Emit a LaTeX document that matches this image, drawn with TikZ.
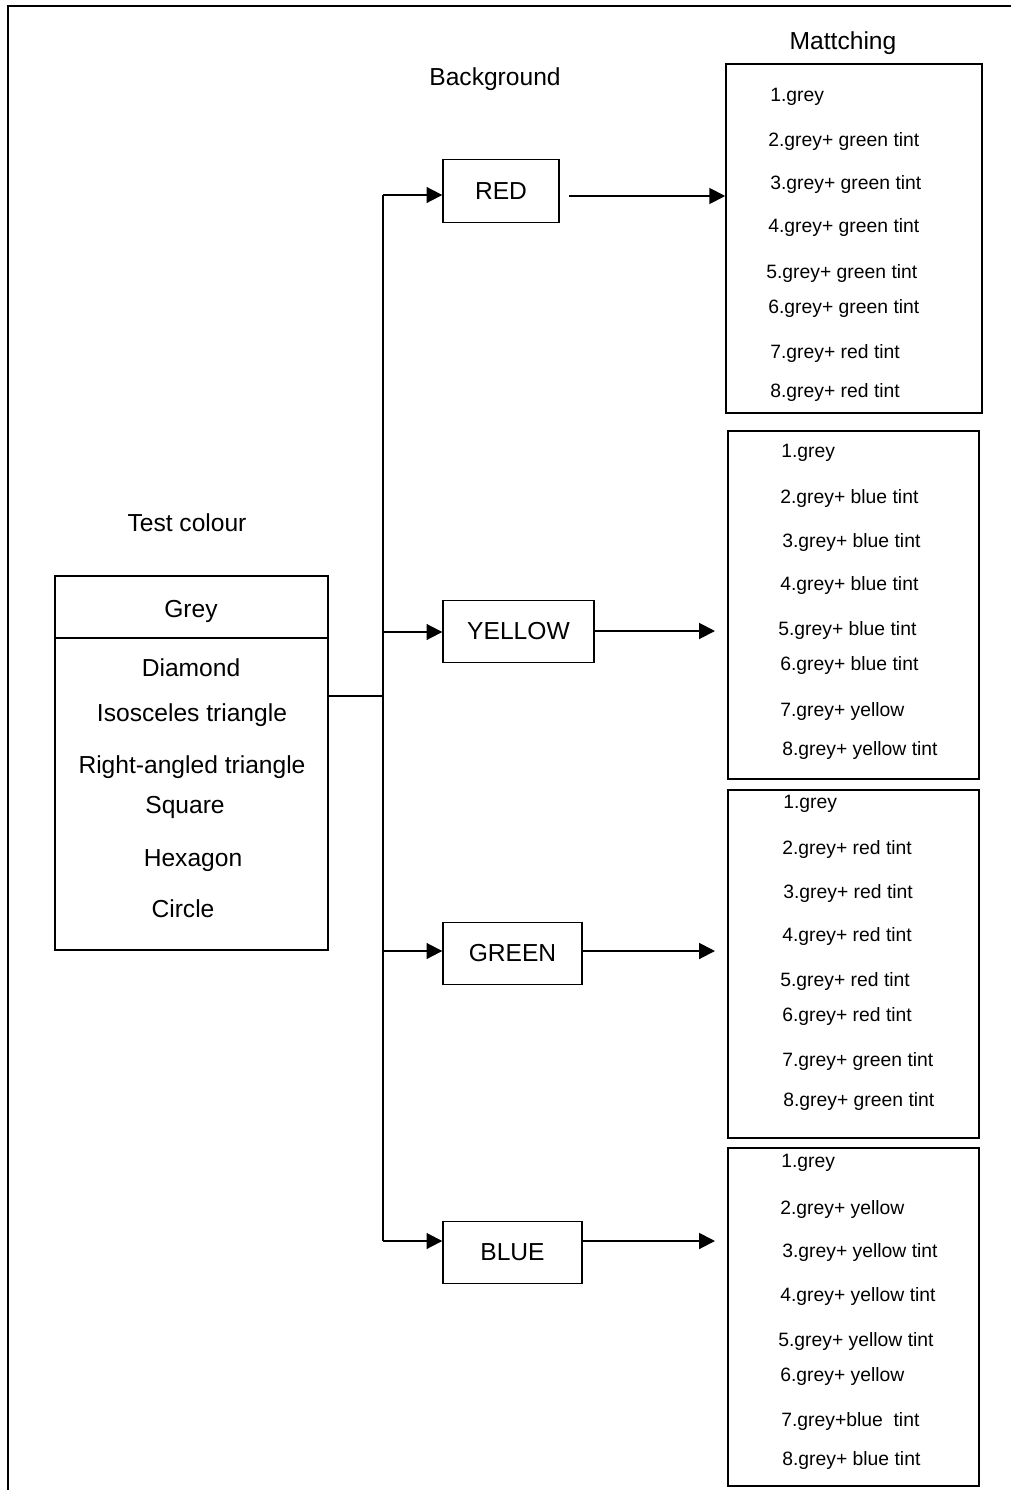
\documentclass[tikz,border=0pt]{standalone}
\usepackage{fontspec}
\setmainfont{Liberation Sans}
\usetikzlibrary{arrows.meta}
\tikzset{
  headtext/.style={font=\fontsize{14}{16}\selectfont, inner sep=0pt, yshift=-1.2pt},
  itemtext/.style={font=\fontsize{11}{13}\selectfont, anchor=west, inner sep=0pt, yshift=-1.2pt},
  bgbox/.style={draw, line width=0.8pt, minimum height=1.25cm, font=\fontsize{14}{16}\selectfont},
  listbox/.style={draw, line width=0.9pt, minimum width=5.02cm},
  arr/.style={line width=1.1pt, -{Triangle[length=9pt,width=9pt]}},
}

\begin{document}
\begin{tikzpicture}[x=0.02cm,y=-0.02cm]
  \useasboundingbox (0,0) rectangle (1011,1490);
  % Outer frame.
  \coordinate (frameBL) at (8,1490);
  \coordinate (frameTL) at (8,6);
  \coordinate (frameTR) at (1011,6);
  \draw [line width=1.3pt] (frameBL) -- (frameTL) -- (frameTR);
  % Titles.
  \node [headtext] (testtitle) at (187,521) {Test colour};
  \node [headtext] (bgtitle) at (495,77) {Background};
  \node [headtext] (matchtitle) at (843,41) {Mattching};
  % Test colour box.
  \node [draw, line width=0.9pt, minimum width=5.46cm, minimum height=7.48cm] (test) at (191.5,763) {};
  \coordinate (splitL) at (55,638);
  \coordinate (splitR) at (328,638);
  \draw [line width=0.9pt] (splitL) -- (splitR);
  \node [headtext] (grey) at (191,609) {Grey};
  \node [headtext] (diamond) at (191,666) {Diamond};
  \node [headtext] (isosceles) at (192,713) {Isosceles triangle};
  \node [headtext] (rightangled) at (192,765) {Right-angled triangle};
  \node [headtext] (square) at (185,805) {Square};
  \node [headtext] (hexagon) at (193,858) {Hexagon};
  \node [headtext] (circle) at (183,907) {Circle};
  % Background boxes.
  \node [bgbox, minimum width=2.32cm] (red) at (501,191) {RED};
  \node [bgbox, minimum width=3.02cm] (yellow) at (518.5,631.5) {YELLOW};
  \node [bgbox, minimum width=2.78cm] (green) at (512.5,953.5) {GREEN};
  \node [bgbox, minimum width=2.78cm] (blue) at (512.5,1252.5) {BLUE};
  % Trunk.
  \coordinate (trunkTop) at (383,195);
  \coordinate (trunkMid) at (383,696);
  \coordinate (trunkBot) at (383,1241);
  \draw [line width=1pt] (test.east |- trunkMid) -- (trunkMid);
  \draw [line width=1pt] (trunkTop) -- (trunkBot);
  \draw [arr] (trunkTop) -- (red.west |- trunkTop);
  \coordinate (yellowIn) at (383,632);
  \draw [arr] (yellowIn) -- (yellow.west |- yellowIn);
  \coordinate (greenIn) at (383,951);
  \draw [arr] (greenIn) -- (green.west |- greenIn);
  \draw [arr] (trunkBot) -- (blue.west |- trunkBot);
  % Matching boxes.
  \node [listbox, minimum width=5.12cm, minimum height=6.98cm] (redlist) at (854,238.5) {};
  \node [listbox, minimum height=6.96cm] (yellowlist) at (853.5,605) {};
  \node [listbox, minimum height=6.96cm] (greenlist) at (853.5,964) {};
  \node [listbox, minimum height=6.76cm] (bluelist) at (853.5,1317) {};
  % Arrows to matching.
  \coordinate (redStart) at (569,196);
  \draw [arr] (redStart) -- (redlist.west |- redStart);
  \coordinate (yellowEnd) at (715,631);
  \draw [arr] (yellow.east |- yellowEnd) -- (yellowEnd);
  \coordinate (greenEnd) at (715,951);
  \draw [arr] (green.east |- greenEnd) -- (greenEnd);
  \coordinate (blueEnd) at (715,1241);
  \draw [arr] (blue.east |- blueEnd) -- (blueEnd);
  % Matching lists.
  \foreach \txt/\xx/\yy [count=\i] in {1.grey/770/95, 2.grey+ green tint/768/139,
      3.grey+ green tint/770/182, 4.grey+ green tint/768/225, 5.grey+ green tint/766/271,
      6.grey+ green tint/768/306, 7.grey+ red tint/770/351, 8.grey+ red tint/770/390}
    \node [itemtext] (redlist-\i) at (\xx,\yy) {\txt};
  \foreach \txt/\xx/\yy [count=\i] in {1.grey/781/451, 2.grey+ blue tint/780/496,
      3.grey+ blue tint/782/540, 4.grey+ blue tint/780/583, 5.grey+ blue tint/778/628,
      6.grey+ blue tint/780/663, 7.grey+ yellow/780/709, 8.grey+ yellow tint/782/748}
    \node [itemtext] (yellowlist-\i) at (\xx,\yy) {\txt};
  \foreach \txt/\xx/\yy [count=\i] in {1.grey/783/802, 2.grey+ red tint/782/847,
      3.grey+ red tint/783/891, 4.grey+ red tint/782/934, 5.grey+ red tint/780/979,
      6.grey+ red tint/782/1014, 7.grey+ green tint/782/1059, 8.grey+ green tint/783/1099}
    \node [itemtext] (greenlist-\i) at (\xx,\yy) {\txt};
  \foreach \txt/\xx/\yy [count=\i] in {1.grey/781/1161, 2.grey+ yellow/780/1207,
      3.grey+ yellow tint/782/1250, 4.grey+ yellow tint/780/1294, 5.grey+ yellow tint/778/1339,
      6.grey+ yellow/780/1374, 7.grey+blue\ \ tint/781/1419, 8.grey+ blue tint/782/1458}
    \node [itemtext] (bluelist-\i) at (\xx,\yy) {\txt};
\end{tikzpicture}
\end{document}
